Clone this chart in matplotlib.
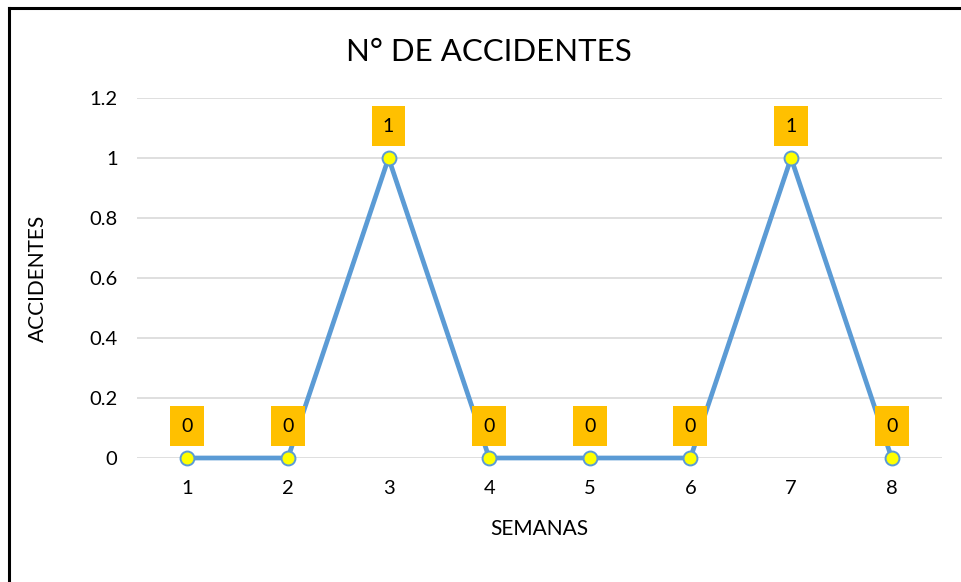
import matplotlib
matplotlib.use('Agg')
import matplotlib.pyplot as plt
from matplotlib.lines import Line2D

semanas = [1, 2, 3, 4, 5, 6, 7, 8]
accidentes = [0, 0, 1, 0, 0, 0, 1, 0]
yticks = [0, 0.2, 0.4, 0.6, 0.8, 1, 1.2]
ytick_labels = ['0', '0.2', '0.4', '0.6', '0.8', '1', '1.2']

plt.rcParams['font.family'] = ['Lato', 'DejaVu Sans']

fig = plt.figure(figsize=(9.61, 5.82), dpi=100)
ax = fig.add_axes([137 / 961, 1 - 458 / 582, 805 / 961, 360 / 582])

ax.plot(semanas, accidentes, color='#5B9BD5', linewidth=3.4, marker='o',
        markersize=10, markerfacecolor='#FFFF00', markeredgecolor='#5B9BD5',
        markeredgewidth=1.4, zorder=3, clip_on=False)

for x, y in zip(semanas, accidentes):
    ax.annotate(str(y), (x, y), xytext=(0, 23), textcoords='offset points',
                ha='center', va='center', fontsize=14, color='black',
                bbox=dict(boxstyle='square,pad=0.58', fc='#FFC000', ec='none'),
                zorder=4)

ax.set_xlim(0.5, 8.5)
ax.set_ylim(0, 1.2)
ax.set_xticks(semanas)
ax.set_yticks(yticks)
ax.set_yticklabels(ytick_labels)
ax.tick_params(length=0, labelsize=14.5, pad=14)
ax.tick_params(axis='x', pad=16)
ax.grid(axis='y', color='#D9D9D9', linewidth=1.2)
ax.set_axisbelow(True)
for s in ax.spines.values():
    s.set_visible(False)

ax.set_xlabel('SEMANAS', fontsize=15, labelpad=16)
ax.set_ylabel('ACCIDENTES', fontsize=15, labelpad=30)
fig.text(489 / 961, 1 - 52 / 582, 'N° DE ACCIDENTES', ha='center', va='center', fontsize=22.5)

# marco exterior (solo arriba e izquierda)
fig.add_artist(Line2D([9 / 961, 1], [1 - 8 / 582, 1 - 8 / 582], color='black', linewidth=2.2))
fig.add_artist(Line2D([9 / 961, 9 / 961], [0, 1 - 8 / 582], color='black', linewidth=2.2))

fig.savefig('out.png', dpi=100)
